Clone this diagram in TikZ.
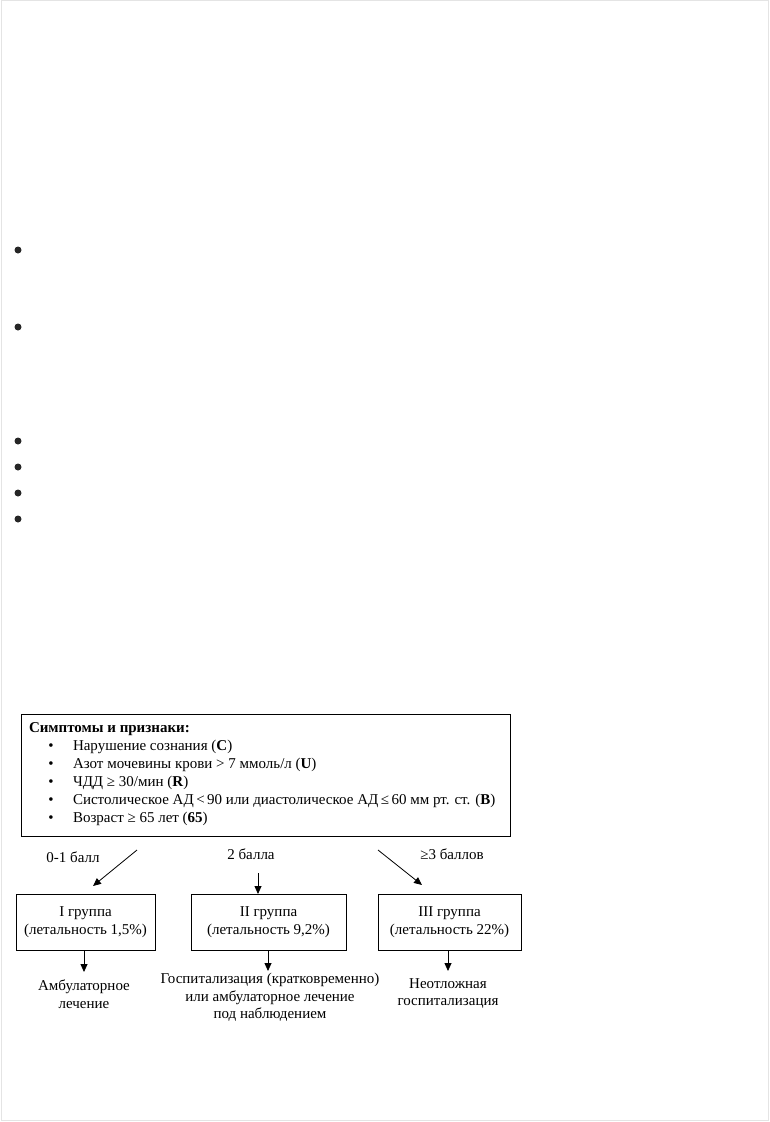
\documentclass[tikz,border=0pt]{standalone}
\usepackage{fontspec}
\setmainfont{Liberation Serif}
\usetikzlibrary{arrows.meta}
\definecolor{pageedge}{HTML}{E4E4E4}
\begin{document}
\begin{tikzpicture}[x=1pt,y=-1pt,
  every node/.style={font=\fontsize{15}{18}\selectfont, inner sep=0pt, outer sep=0pt},
  box/.style={draw, line width=0.8pt, rectangle},
  txt/.style={anchor=west},
  ctr/.style={align=center, anchor=center},
  arr/.style={-{Triangle[length=8pt,width=7pt]}, line width=0.8pt},
  pagebullet/.style={circle, fill=black!85, minimum size=7pt}]
\useasboundingbox (0,0) rectangle (770,1122);
\draw[pageedge, line width=1pt] (1.5,0.8) rectangle (768.5,1120.5);
% stray bullets
\node[pagebullet] (pb1) at (18,250) {};
\node[pagebullet] (pb2) at (18,327) {};
\node[pagebullet] (pb3) at (18,441) {};
\node[pagebullet] (pb4) at (18,467) {};
\node[pagebullet] (pb5) at (18,493) {};
\node[pagebullet] (pb6) at (18,519) {};
% top box
\node[box, minimum width=489pt, minimum height=122pt] (top) at (265.5,775) {};
\node[txt] (title) at (29,729) {\textbf{Симптомы и признаки:}};
\node (b1) at (51,747) {•}; \node[txt] (l1) at (73,747) {Нарушение сознания (\textbf{C})};
\node (b2) at (51,765) {•}; \node[txt] (l2) at (73,765) {Азот мочевины крови > 7 ммоль/л (\textbf{U})};
\node (b3) at (51,783) {•}; \node[txt] (l3) at (73,783) {ЧДД ≥ 30/мин (\textbf{R})};
\node (b4) at (51,801) {•}; \node[txt] (l4) at (73,801) {Систолическое АД\,<\,90 или диастолическое АД\,≤\,60 мм рт. ст. (\textbf{B})};
\node (b5) at (51,819) {•}; \node[txt] (l5) at (73,819) {Возраст ≥ 65 лет (\textbf{65})};
% score labels
\node (s1) at (73,857) {0-1 балл};
\node (s2) at (251,854) {2 балла};
\node (s3) at (452,854) {≥3 баллов};
% group boxes
\node[box, minimum width=139pt, minimum height=56pt, ctr] (g1) at (85.5,922) {I группа\\(летальность 1,5\%)};
\node[box, minimum width=155pt, minimum height=56pt, ctr] (g2) at (268.5,922) {II группа\\(летальность 9,2\%)};
\node[box, minimum width=143pt, minimum height=56pt, ctr] (g3) at (449.5,922) {III группа\\(летальность 22\%)};
% outcomes
\node[ctr, font=\fontsize{15}{17.5}\selectfont] (o1) at (84,994) {Амбулаторное\\лечение};
\node[ctr, font=\fontsize{15}{17.5}\selectfont] (o2) at (270,997.5) {Госпитализация (кратковременно)\\или амбулаторное лечение\\под наблюдением};
\node[ctr, font=\fontsize{15}{17.5}\selectfont] (o3) at (448,993.5) {Неотложная\\госпитализация};
% arrows
\coordinate (a1s) at (137,850); \coordinate (a1e) at (93,886);
\coordinate (a2s) at (258,873); \coordinate (a2e) at (258,894);
\coordinate (a3s) at (378,850); \coordinate (a3e) at (422,885);
\coordinate (d1) at (84,972);
\coordinate (d2) at (268,971);
\coordinate (d3) at (448,971);
\draw[arr] (a1s) -- (a1e);
\draw[arr] (a2s) -- (a2e);
\draw[arr] (a3s) -- (a3e);
\draw[arr] (g1.south -| d1) -- (d1);
\draw[arr] (g2.south -| d2) -- (d2);
\draw[arr] (g3.south -| d3) -- (d3);
\end{tikzpicture}
\end{document}
